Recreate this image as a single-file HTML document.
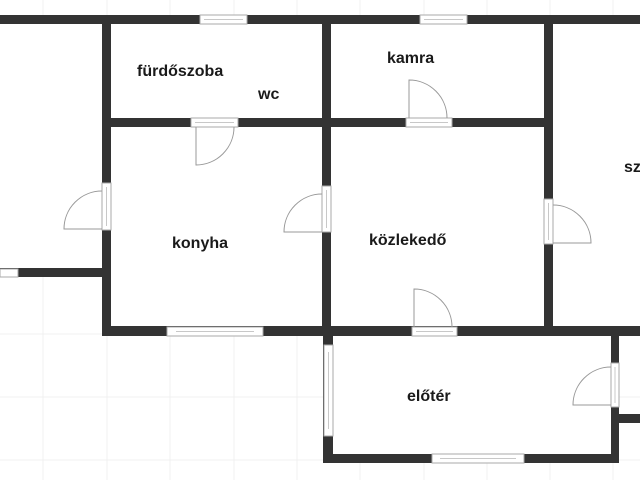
<!DOCTYPE html>
<html><head><meta charset="utf-8"><style>
html,body{margin:0;padding:0;background:#fff;}
svg{display:block;}
text{font-family:"Liberation Sans",sans-serif;font-weight:bold;font-size:16px;fill:#1a1a1a;}
</style></head><body>
<svg width="640" height="480" viewBox="0 0 640 480" xmlns="http://www.w3.org/2000/svg">
<g stroke="#f0f0f0" stroke-width="1">
<line x1="43" y1="0" x2="43" y2="480"/><line x1="107" y1="0" x2="107" y2="480"/><line x1="170" y1="0" x2="170" y2="480"/><line x1="234" y1="0" x2="234" y2="480"/><line x1="297" y1="0" x2="297" y2="480"/><line x1="360" y1="0" x2="360" y2="480"/><line x1="424" y1="0" x2="424" y2="480"/><line x1="487" y1="0" x2="487" y2="480"/><line x1="550" y1="0" x2="550" y2="480"/><line x1="613" y1="0" x2="613" y2="480"/>
<line x1="0" y1="19" x2="640" y2="19"/><line x1="0" y1="82" x2="640" y2="82"/><line x1="0" y1="145" x2="640" y2="145"/><line x1="0" y1="208" x2="640" y2="208"/><line x1="0" y1="271" x2="640" y2="271"/><line x1="0" y1="334" x2="640" y2="334"/><line x1="0" y1="397" x2="640" y2="397"/><line x1="0" y1="460" x2="640" y2="460"/>
</g>
<rect x="0" y="24" width="102" height="244" fill="#fff"/>
<rect x="111" y="24" width="434" height="302" fill="#fff"/>
<rect x="553" y="24" width="87" height="302" fill="#fff"/>
<rect x="332" y="336" width="280" height="118" fill="#fff"/>
<g fill="#333">
<rect x="0" y="15" width="640" height="9"/>
<rect x="102" y="15" width="9" height="321"/>
<rect x="102" y="118" width="229" height="9"/>
<rect x="322" y="15" width="9" height="321"/>
<rect x="322" y="118" width="231" height="9"/>
<rect x="544" y="15" width="9" height="318"/>
<rect x="0" y="268" width="111" height="9"/>
<rect x="102" y="326" width="538" height="10"/>
<rect x="323" y="326" width="10" height="137"/>
<rect x="323" y="454" width="296" height="9"/>
<rect x="611" y="336" width="8" height="127"/>
<rect x="619" y="414" width="21" height="9"/>
</g>
<g fill="#fff" stroke="#aaa" stroke-width="1">
<rect x="200" y="15" width="47" height="9"/><rect x="420" y="15" width="47" height="9"/>
<rect x="191" y="118" width="47" height="9"/><rect x="406" y="118" width="46" height="9"/>
<rect x="167" y="327" width="96" height="9"/><rect x="412" y="327" width="45" height="9"/>
<rect x="432" y="454" width="92" height="9"/><rect x="0" y="269" width="18" height="8"/>
<rect x="102" y="183" width="9" height="47"/><rect x="322" y="186" width="9" height="46"/>
<rect x="544" y="199" width="9" height="45"/><rect x="324" y="345" width="9" height="91"/>
<rect x="611" y="363" width="8" height="44"/>
</g>
<g fill="none" stroke="#c8c8c8" stroke-width="1">
<line x1="204" y1="19.5" x2="243" y2="19.5"/><line x1="424" y1="19.5" x2="463" y2="19.5"/>
<line x1="195" y1="122.5" x2="234" y2="122.5"/><line x1="410" y1="122.5" x2="448" y2="122.5"/>
<line x1="176" y1="331.5" x2="254" y2="331.5"/><line x1="416" y1="331.5" x2="453" y2="331.5"/>
<line x1="440" y1="458.5" x2="516" y2="458.5"/>
<line x1="106.5" y1="187" x2="106.5" y2="226"/><line x1="326.5" y1="190" x2="326.5" y2="228"/>
<line x1="548.5" y1="203" x2="548.5" y2="240"/><line x1="328.5" y1="352" x2="328.5" y2="429"/>
<line x1="615" y1="367" x2="615" y2="403"/>
</g>
<g fill="none" stroke="#999" stroke-width="1">
<path d="M196 127 V165 A38 38 0 0 0 234 127"/>
<path d="M102 229 H64 A38 38 0 0 1 102 191"/>
<path d="M322 232 H284 A38 38 0 0 1 322 194"/>
<path d="M553 243 H591 A38 38 0 0 0 553 205"/>
<path d="M409 118 V80 A38 38 0 0 1 447 118"/>
<path d="M414 327 V289 A38 38 0 0 1 452 327"/>
<path d="M611 405 H573 A38 38 0 0 1 611 367"/>
</g>
<text x="137" y="76">fürdőszoba</text>
<text x="258" y="99">wc</text>
<text x="387" y="63">kamra</text>
<text x="172" y="248">konyha</text>
<text x="369" y="245">közlekedő</text>
<text x="407" y="401">előtér</text>
<text x="624" y="172">sz</text>
</svg>
</body></html>
